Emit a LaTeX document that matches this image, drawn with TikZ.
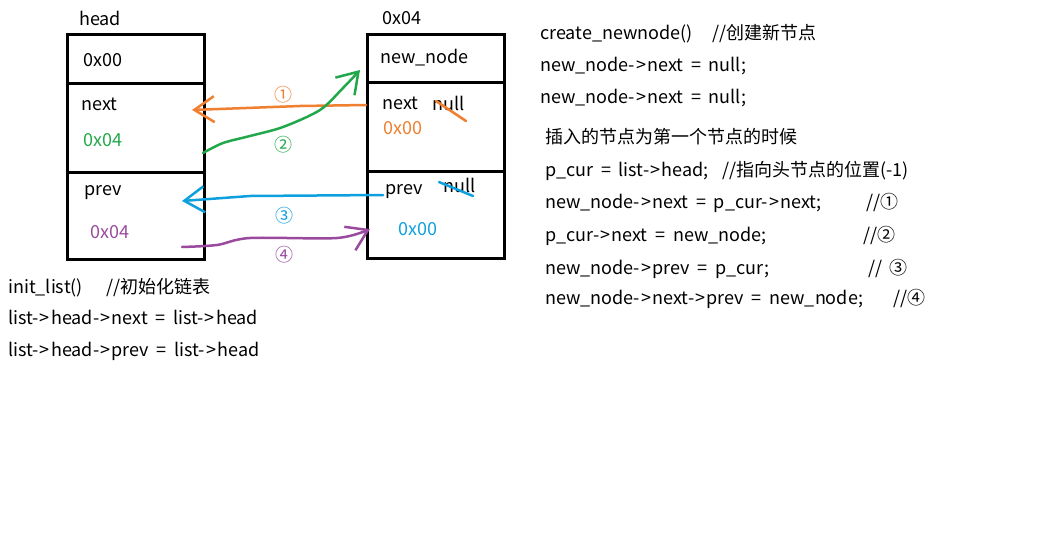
\documentclass[tikz,border=0pt]{standalone}
\usepackage{fontspec}
\setmainfont{Noto Sans CJK SC}[WordSpace={1.9}]
\usetikzlibrary{arrows.meta,positioning}
\definecolor{penorange}{HTML}{F07F2F}
\definecolor{pengreen}{HTML}{22A84A}
\definecolor{penblue}{HTML}{0EA0DE}
\definecolor{penpurple}{HTML}{9A4A9E}
\newcommand{\ptr}{-\kern1.2pt>\kern1.2pt}

\begin{document}
\begin{tikzpicture}[x=1pt, y=-1pt, every node/.style={font=\fontsize{18}{21}\selectfont},
    cell/.style={draw, line width=3pt, minimum width=137pt, outer sep=0pt, inner sep=0pt},
    txt/.style={anchor=base west, inner sep=0pt},
    num/.style={inner sep=0pt, font=\fontsize{18}{20}\selectfont},
    pen/.style={line width=2.5pt, line cap=round, line join=round, -{Straight Barb[length=20pt,width=26pt]}},
    strike/.style={line width=2.5pt, line cap=round}]
        \fill[white] (0,0) rectangle (1058,546);
        \useasboundingbox (0,0) rectangle (1058,546);
        % head node
        \node[cell, minimum height=49pt] (h0) at (135.5,58.5) {};
        \node[cell, minimum height=89pt, below=0pt of h0] (h1) {};
        \node[cell, minimum height=87pt, below=0pt of h1] (h2) {};
        % new node
        \node[cell, minimum height=48pt] (n0) at (435.5,58) {};
        \node[cell, minimum height=89pt, below=0pt of n0] (n1) {};
        \node[cell, minimum height=87pt, below=0pt of n1] (n2) {};
        \node[txt] (headlbl) at (79,25) {head};
        \node[txt] (addrlbl) at (382,24) {0x04};
        \node[txt] (hval) at (83,66) {0x00};
        \node[txt] (hnext) at (81,110) {next};
        \node[txt, text=pengreen] (hnextv) at (83,146) {0x04};
        \node[txt] (hprev) at (84,195) {prev};
        \node[txt, text=penpurple] (hprevv) at (90,238) {0x04};
        \node[txt] (nname) at (380,63) {new\_node};
        \node[txt] (nnext) at (382,109) {next};
        \node[txt] (nnull1) at (432,110) {null};
        \node[txt, text=penorange] (nnextv) at (383,134) {0x00};
        \node[txt] (nprev) at (385,194) {prev};
        \node[txt] (nnull2) at (443,192) {null};
        \node[txt, text=penblue] (nprevv) at (398,235) {0x00};
        \draw[strike, penorange] (436,101) -- (466,121);
        \draw[strike, penblue] (439,182) -- (473,196);
        % pointer changes
        \coordinate (o1) at (366,105); \coordinate (o2) at (192,110);
        \coordinate (g1) at (203,153); \coordinate (g2) at (360,70);
        \coordinate (b1) at (383,195); \coordinate (b2) at (182,201);
        \coordinate (p1) at (182,247); \coordinate (p2) at (370,229);
        \draw[pen, penorange] (o1) -- (300,106) -- (o2);
        \draw[pen, pengreen] plot[smooth] coordinates {(g1) (223,143) (250,136) (283,127) (320,110) (343,88) (g2)};
        \draw[pen, penblue] (b1) -- (250,196) -- (b2);
        \draw[pen, penpurple] plot[smooth] coordinates {(p1) (217,245) (250,238) (337,238) (p2)};
        \node[num, text=penorange] (s1) at (283,95) {①};
        \node[num, text=pengreen] (s2) at (283,145) {②};
        \node[num, text=penblue] (s3) at (284,216) {③};
        \node[num, text=penpurple] (s4) at (284,255) {④};
        % init
        \node[txt] (i1) at (8,293) {init\_list()};
        \node[txt] (i1c) at (106,293) {//初始化链表};
        \node[txt] (i2) at (8,324) {list\ptr head\ptr next = list\ptr head};
        \node[txt] (i3) at (8,356) {list\ptr head\ptr prev = list\ptr head};
        % insert
        \node[txt] (c1) at (540,39) {create\_newnode()};
        \node[txt] (c1c) at (712,39) {//创建新节点};
        \node[txt] (c2) at (540,71) {new\_node\ptr next = null;};
        \node[txt] (c3) at (540,103) {new\_node\ptr next = null;};
        \node[txt] (c4) at (545,143) {插入的节点为第一个节点的时候};
        \node[txt] (c5) at (545,176) {p\_cur = list\ptr head;};
        \node[txt] (c5c) at (722,176) {//指向头节点的位置(-1)};
        \node[txt] (c6) at (545,208) {new\_node\ptr next = p\_cur\ptr next;};
        \node[txt] (c6c) at (866,208) {//①};
        \node[txt] (c7) at (545,241) {p\_cur\ptr next = new\_node;};
        \node[txt] (c7c) at (863,241) {//②};
        \node[txt] (c8) at (545,274) {new\_node\ptr prev = p\_cur;};
        \node[txt] (c8c) at (868,274) {// ③};
        \node[txt] (c9) at (545,304) {new\_node\ptr next\ptr prev = new\_node;};
        \node[txt] (c9c) at (893,304) {//④};
      \end{tikzpicture}
\end{document}
